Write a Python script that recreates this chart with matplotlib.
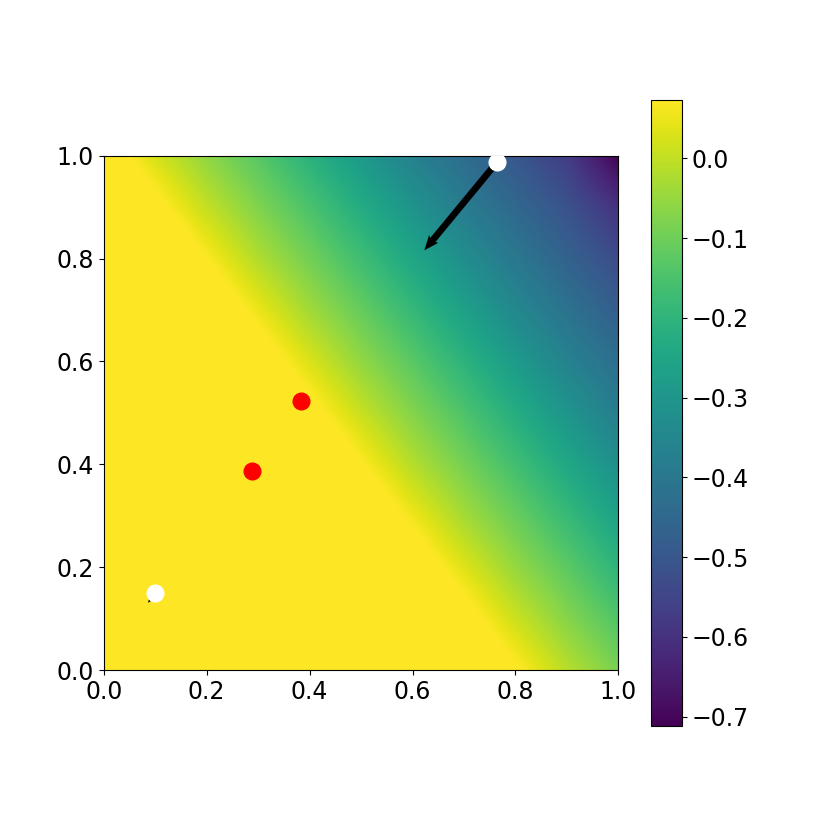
"""
Heatmap with markers and gradient arrows
"""
import matplotlib
matplotlib.use("Agg")
import matplotlib.pyplot as plt
import numpy as np

# grid nodes (x along columns, y along rows)
x_nodes = [0.0, 0.1, 0.2, 0.3, 0.4, 0.5, 0.6, 0.7, 0.8, 0.9, 1.0]
y_nodes = [0.0, 0.1, 0.2, 0.3, 0.4, 0.5, 0.6, 0.7, 0.8, 0.9, 1.0]

# colour range shown on the colorbar
VMIN = -0.712
VMAX = 0.0735

# values, one row per y node (bottom to top);
# nodes inside the flat yellow area sit at or above the top of the range
P = VMAX
row_y00 = [P, P, P, P, P, P, 0.265, 0.174, 0.082, -0.010, -0.086]
row_y01 = [P, P, P, P, P, 0.287, 0.195, 0.104, 0.012, -0.069, -0.142]
row_y02 = [P, P, P, P, P, 0.217, 0.125, 0.034, -0.051, -0.124, -0.202]
row_y03 = [P, P, P, P, 0.239, 0.147, 0.055, -0.033, -0.107, -0.183, -0.262]
row_y04 = [P, P, P, 0.260, 0.169, 0.077, -0.015, -0.090, -0.165, -0.243, -0.322]
row_y05 = [P, P, 0.282, 0.190, 0.099, 0.007, -0.073, -0.146, -0.225, -0.303, -0.380]
row_y06 = [P, P, 0.212, 0.120, 0.029, -0.055, -0.128, -0.206, -0.285, -0.363, -0.430]
row_y07 = [P, 0.234, 0.142, 0.050, -0.037, -0.111, -0.188, -0.266, -0.345, -0.415, -0.480]
row_y08 = [0.256, 0.164, 0.072, -0.019, -0.094, -0.169, -0.248, -0.326, -0.399, -0.465, -0.532]
row_y09 = [0.186, 0.094, 0.002, -0.077, -0.150, -0.229, -0.308, -0.384, -0.449, -0.514, -0.600]
row_y10 = [0.116, 0.024, -0.059, -0.132, -0.210, -0.289, -0.368, -0.434, -0.498, -0.573, -0.712]

# markers
white_x = [0.100, 0.764]
white_y = [0.150, 0.987]
red_x = [0.289, 0.383]
red_y = [0.387, 0.524]

# arrows starting at the white points
arrow_u = [-0.014, -0.141]
arrow_v = [-0.019, -0.171]

plt.rcParams['font.size'] = 17

Z = np.array([row_y00, row_y01, row_y02, row_y03, row_y04, row_y05,
              row_y06, row_y07, row_y08, row_y09, row_y10])
half = (x_nodes[1] - x_nodes[0]) / 2

fig, ax = plt.subplots(figsize=(8.3, 8.3), dpi=100)
fig.subplots_adjust(left=0.125, right=0.9, bottom=0.125, top=0.88)

img = ax.imshow(Z, cmap='viridis', origin='lower', interpolation='bilinear',
                interpolation_stage='data', vmin=VMIN, vmax=VMAX,
                extent=(x_nodes[0] - half, x_nodes[-1] + half,
                        y_nodes[0] - half, y_nodes[-1] + half))
fig.colorbar(img, ax=ax)

ax.quiver(white_x, white_y, arrow_u, arrow_v, angles='xy', scale_units='xy',
          scale=1, width=0.013, headwidth=1.8, headlength=2.2,
          headaxislength=2.0, color='k', zorder=3)
ax.plot(white_x, white_y, 'o', color='white', markersize=12, zorder=4)
ax.plot(red_x, red_y, 'o', color='red', markersize=12, zorder=4)

ax.set_xlim(0, 1)
ax.set_ylim(0, 1)
ax.set_aspect('equal')

plt.savefig('out.png')
plt.close()
